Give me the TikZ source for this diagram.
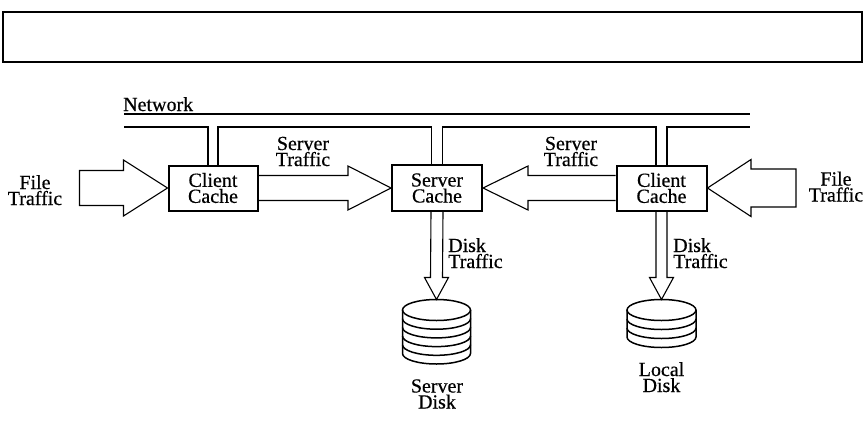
\documentclass[tikz,border=0pt]{standalone}
\usepackage{fontspec}
\setmainfont{Liberation Serif}[FakeBold=0.5]
\usetikzlibrary{calc}
\begin{document}
\begin{tikzpicture}[x=1pt,y=-1pt,
  txt/.style={inner sep=0pt, align=center, font=\fontsize{20}{16}\selectfont},
  cache/.style={txt, draw, line width=2pt, minimum width=89pt, minimum height=45pt},
  fat/.style={line width=1.1pt, line join=miter},
  net/.style={line width=1.1pt},
  disk/.style={line width=1.5pt}]
\useasboundingbox (0,0) rectangle (865,442);
% banner
\node[draw, line width=1.6pt, minimum width=859pt, minimum height=50pt, inner sep=0pt] (banner) at (432.5,37) {};
% caches
\node[cache] (cl) at (213,188) {Client\\Cache};
\node[cache, minimum width=90pt, minimum height=46pt] (sc) at (437,188) {Server\\Cache};
\node[cache, minimum width=90pt] (cr) at (661.5,188) {Client\\Cache};
% network
\node[txt, anchor=base west] (netlbl) at (123,111) {Network};
\coordinate (netL) at (124,114);
\coordinate (netR) at (750,114);
\coordinate (busL) at (124,127);
\coordinate (busR) at (750,127);
\coordinate (c1a) at ($(cl.north)+(-5,0)$);
\coordinate (c1b) at ($(cl.north)+(5,0)$);
\coordinate (c2a) at ($(sc.north)+(-5.5,0)$);
\coordinate (c2b) at ($(sc.north)+(5.5,0)$);
\coordinate (c3a) at ($(cr.north)+(-5.5,0)$);
\coordinate (c3b) at ($(cr.north)+(5.5,0)$);
\draw[net] (netL) -- (netR);
\draw[net] (busL) -| (c1a);
\draw[net] (c1b) -- (c1b |- busL) -- (c2a |- busL) -- (c2a);
\draw[net] (c2b) -- (c2b |- busL) -- (c3a |- busL) -- (c3a);
\draw[net] (c3b) -- (c3b |- busL) -- (busR);
% file traffic left
\draw[fat] (cl.west) -- ++(-44,-28) -- ++(0,10.5) -- ++(-44,0) -- ++(0,35) -- ++(44,0) -- ++(0,10.5) -- cycle;
\node[txt, anchor=base] (ftl) at (35,205) {File\\Traffic};
% file traffic right
\draw[fat] (cr.east) -- ++(43.5,-28.5) -- ++(0,9.5) -- ++(45,0) -- ++(0,38) -- ++(-45,0) -- ++(0,9.5) -- cycle;
\node[txt, anchor=base] (ftr) at (836,201.5) {File\\Traffic};
% server traffic left to right
\draw[fat] ($(cl.east)+(0,-12.5)$) -- ($(sc.west)+(-43,-12.5)$) -- ($(sc.west)+(-43,-22)$) -- (sc.west) -- ($(sc.west)+(-43,22)$) -- ($(sc.west)+(-43,12.5)$) -- ($(cl.east)+(0,12.5)$);
\node[txt, anchor=base] (stl) at (303,166) {Server\\Traffic};
% server traffic right to left
\draw[fat] ($(cr.west)+(0,-12.5)$) -- ($(sc.east)+(45,-12.5)$) -- ($(sc.east)+(45,-22)$) -- (sc.east) -- ($(sc.east)+(45,22)$) -- ($(sc.east)+(45,12.5)$) -- ($(cr.west)+(0,12.5)$);
\node[txt, anchor=base] (str) at (571,166) {Server\\Traffic};
% disks
\coordinate (sdc) at (436.5,310);
\coordinate (ldc) at (661.5,310);
\coordinate (sdt) at ($(sdc)+(0,-10.5)$);
\coordinate (ldt) at ($(ldc)+(0,-10.5)$);
\draw[disk] (sdc) ellipse [x radius=34, y radius=10.5];
\foreach \k in {1,...,5}{
  \draw[disk] ($(sdc)+(-34,{(\k-1)*8.7})$) -- ++(0,8.7) arc[start angle=180, end angle=0, x radius=34, y radius=10.5] -- ++(0,-8.7);
}
\draw[disk] (ldc) ellipse [x radius=34.5, y radius=10.5];
\foreach \k in {1,...,3}{
  \draw[disk] ($(ldc)+(-34.5,{(\k-1)*9})$) -- ++(0,9) arc[start angle=180, end angle=0, x radius=34.5, y radius=10.5] -- ++(0,-9);
}
% disk traffic arrows
\draw[fat] ($(sc.south)+(-6,0)$) -- ($(sdt)+(-6,-22)$) -- ($(sdt)+(-12,-22)$) -- (sdt) -- ($(sdt)+(12,-22)$) -- ($(sdt)+(6,-22)$) -- ($(sc.south)+(6,0)$);
\draw[fat] ($(cr.south)+(-5.5,0)$) -- ($(ldt)+(-5.5,-22)$) -- ($(ldt)+(-12,-22)$) -- (ldt) -- ($(ldt)+(12,-22)$) -- ($(ldt)+(5.5,-22)$) -- ($(cr.south)+(5.5,0)$);
\node[txt, anchor=base west, align=left] (dts) at (448,268) {Disk\\Traffic};
\node[txt, anchor=base west, align=left] (dtl) at (673,268) {Disk\\Traffic};
% disk labels
\node[txt, anchor=base] (sdl) at (437,408.5) {Server\\Disk};
\node[txt, anchor=base] (ldl) at (661.5,392) {Local\\Disk};
\end{tikzpicture}
\end{document}
